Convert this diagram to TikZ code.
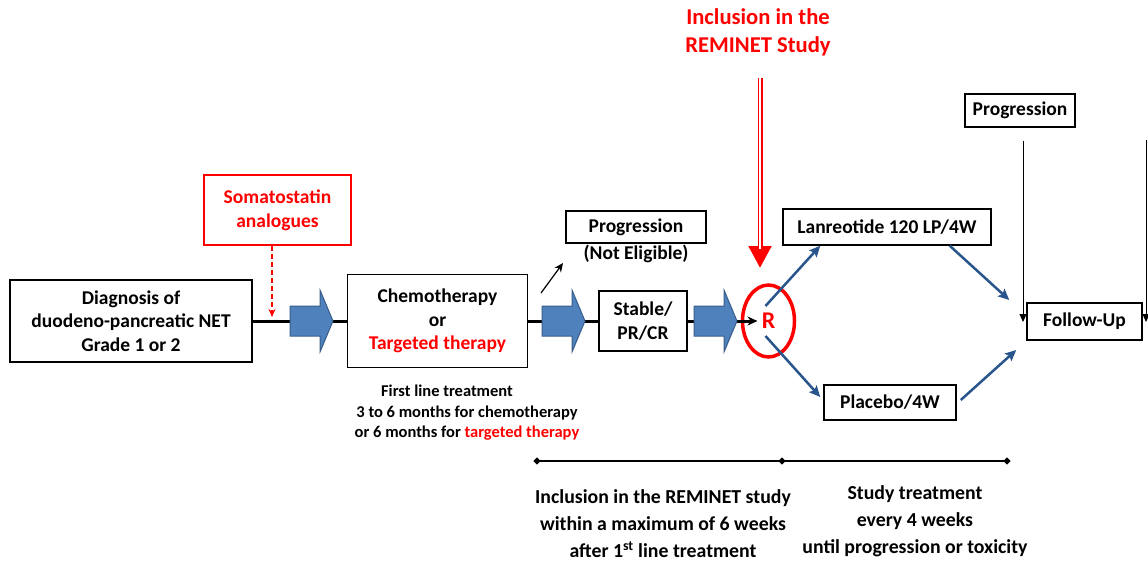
\documentclass[tikz,border=0pt]{standalone}
\usepackage{fontspec}
\setmainfont{Carlito}
\usepackage{xcolor}
\usepackage{tikz}
\usetikzlibrary{positioning}
\usetikzlibrary{shapes.geometric}
\usetikzlibrary{arrows.meta}
\definecolor{remred}{RGB}{255,0,0}
\definecolor{blkfill}{RGB}{79,129,189}
\definecolor{blkline}{RGB}{56,93,138}
\definecolor{armblue}{RGB}{40,85,140}

\begin{document}
\begin{tikzpicture}[x=1pt, y=-1pt, >=Stealth, line width=1.5pt,
    box/.style={rectangle, draw, line width=1.5pt, align=center, inner sep=2pt,
        font=\fontsize{19.5}{23.5}\selectfont\bfseries},
    redbox/.style={box, draw=remred, text=remred, line width=1.2pt, font=\fontsize{19.5}{24}\selectfont\bfseries},
    note/.style={align=center, inner sep=0pt, font=\fontsize{16.5}{20.5}\selectfont\bfseries},
    bignote/.style={align=center, inner sep=0pt, font=\fontsize{19.8}{27}\selectfont\bfseries},
    mainline/.style={line width=3pt},
    bluearr/.style={draw=armblue, line width=2.5pt, -{Stealth[length=11pt,width=10pt,inset=2pt]}},
    thinarr/.style={line width=1pt, -{Triangle[length=8pt,width=7pt]}},
    tick/.style={diamond, fill, inner sep=0pt, minimum size=8pt},
    blockarr/.pic={\draw[draw=blkline, fill=blkfill, line width=1pt]
        (-21,-15) -- (9,-15) -- (9,-31) -- (22,0) -- (9,31) -- (9,15) -- (-21,15) -- cycle;}]
    \useasboundingbox (0,0) rectangle (1148,565);

    % main row
    \node [box, minimum width=242, minimum height=82] (diag) at (131,321)
        {Diagnosis of\\duodeno-pancreatic NET\\Grade 1 or 2};
    \node [box, minimum width=180, minimum height=93, right=94pt of diag] (chemo)
        {Chemotherapy\\or\\\textcolor{remred}{Targeted therapy}};
    \node [box, minimum width=88, minimum height=60, right=70pt of chemo] (stable) {Stable/\\PR/CR};
    \node [ellipse, draw=remred, line width=3.5pt, minimum width=52, minimum height=72,
        inner sep=0pt, text=remred, font=\fontsize{24}{24}\selectfont\bfseries,
        right=53pt of stable] (R) {R};

    \path[mainline] (diag) edge (chemo);
    \path[mainline] (chemo) edge (stable);
    \draw[mainline, -{Stealth[length=10pt,width=9pt]}, shorten >=11pt] (stable) -- (R.center);

    \pic at (311,321) {blockarr};
    \pic at (563,321) {blockarr};
    \pic at (715,321) {blockarr};

    % somatostatin
    \node [redbox, minimum width=147, minimum height=70] (soma) at (277.5,210) {Somatostatin\\analogues};
    \coordinate (somaend) at (272,317);
    \draw[remred, line width=1.2pt, dash pattern=on 5pt off 3pt, -{Stealth[length=8pt,width=7pt]}]
        ([xshift=-5.5pt]soma.south) -- (somaend);

    % not eligible
    \node [box, minimum width=140, minimum height=32] (progne) at (636,227) {Progression};
    \node [below=0pt of progne, inner sep=1pt, font=\fontsize{19.5}{23}\selectfont\bfseries] (ne) {(Not Eligible)};
    \coordinate (nestart) at (541,293);
    \coordinate (neend) at (563,263);
    \draw[line width=1.2pt, -{Stealth[length=9pt,width=8pt]}] (nestart) -- (neend);

    \node [note] (firstline) at (467,413)
        {First line treatment\hspace*{40pt}\\3 to 6 months for chemotherapy\\or 6 months for \textcolor{remred}{targeted therapy}};

    % inclusion
    \node [align=center, text=remred, inner sep=0pt, font=\fontsize{22.6}{28}\selectfont\bfseries] (incl)
        at (758,32) {Inclusion in the\\REMINET Study};
    \coordinate (incltop) at (760,78);
    \coordinate (inclmid) at (760,249);
    \coordinate (inclend) at (760,268);
    \draw[remred, line width=5pt, -{Triangle[length=22pt,width=22pt]}] (incltop) -- (inclend);
    \draw[white, line width=2pt] (incltop) -- (inclmid);

    % arms
    \node [box, minimum width=208, minimum height=36] (lan) at (887,227) {Lanreotide 120 LP/4W};
    \node [box, minimum width=132, minimum height=35] (plac) at (890,402.5) {Placebo/4W};
    \node [box, minimum width=115, minimum height=37] (fu) at (1084.5,321.5) {Follow-Up};
    \node [box, minimum width=110, minimum height=33] (prog) at (1020,110.5) {Progression};

    \draw[bluearr] ([xshift=-3pt,yshift=15pt]R.center) -- ([xshift=38pt]lan.south west);
    \draw[bluearr] ([xshift=-3pt,yshift=-15pt]R.center) -- ([xshift=-3pt,yshift=5.5pt]plac.west);
    \draw[bluearr] ([xshift=-42pt]lan.south east) -- ([xshift=-17pt,yshift=21.5pt]fu.west);
    \draw[bluearr] ([xshift=4pt,yshift=2.5pt]plac.east) -- ([xshift=-10pt,yshift=-28.5pt]fu.west);

    \coordinate (fuleft) at (1023,322);
    \coordinate (rtop) at (1146,140);
    \coordinate (rbot) at (1146,322);
    \draw[thinarr] ([xshift=3pt,yshift=-13pt]prog.south) -- (fuleft);
    \draw[thinarr] (rtop) -- (rbot);

    % timeline
    \node [tick] (t1) at (537,461) {};
    \node [tick] (t2) at (782,461) {};
    \node [tick] (t3) at (1007,461) {};
    \draw[line width=2pt] (t1.center) -- (t2.center) -- (t3.center);

    \node [bignote] (window) at (663,524)
        {Inclusion in the REMINET study\\within a maximum of 6 weeks\\after 1\textsuperscript{st} line treatment};
    \node [bignote] (studytx) at (915,521)
        {Study treatment\\every 4 weeks\\until progression or toxicity};
\end{tikzpicture}
\end{document}
